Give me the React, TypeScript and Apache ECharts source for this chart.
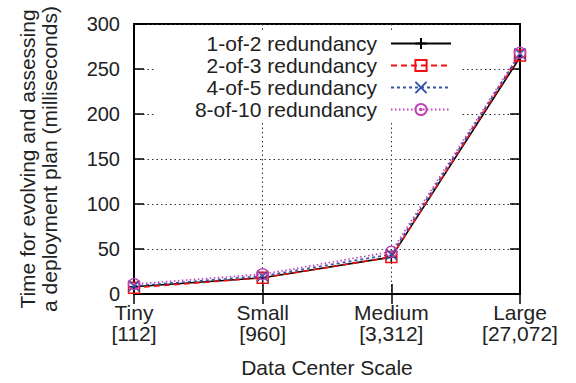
import React, { useEffect, useRef } from "react";
import * as echarts from "echarts";

const categories = ["Tiny\n[112]", "Small\n[960]", "Medium\n[3,312]", "Large\n[27,072]"];
const seriesNames = ["1-of-2 redundancy", "2-of-3 redundancy", "4-of-5 redundancy", "8-of-10 redundancy"];
const oneOfTwo = [8, 18, 41, 263];
const twoOfThree = [7, 18, 41, 265];
const fourOfFive = [9, 20, 44, 267];
const eightOfTen = [11, 22, 47, 268];
const yTicks = { min: 0, max: 300, interval: 50 };

const FONT = "'Liberation Sans', Arial, Helvetica, sans-serif";
const TXT = "#222";

export default function App() {
  const ref = useRef<HTMLDivElement>(null);
  useEffect(() => {
    if (!ref.current) return;
    const chart = echarts.init(ref.current, undefined, { renderer: "svg" });
    const colors = ["#000000", "#ee1111", "#3355aa", "#c040b8"];
    const symbols = [
      "path://M0,5L10,5M5,0L5,10",
      "path://M0,0L10,0L10,10L0,10Z",
      "path://M0,0L10,10M10,0L0,10",
      "path://M0,5A5,5,0,1,1,10,5A5,5,0,1,1,0,5ZM4.4,5A0.6,0.6,0,1,1,5.6,5A0.6,0.6,0,1,1,4.4,5Z",
    ];
    const dashes: any[] = ["solid", [6, 4], [3, 3], [1.5, 2.5]];
    const data = [oneOfTwo, twoOfThree, fourOfFive, eightOfTen];
    const series = data.map((d, i) => ({
      name: seriesNames[i],
      type: "line",
      data: d,
      symbol: symbols[i],
      symbolSize: 11,
      xAxisIndex: 0,
      yAxisIndex: 0,
      itemStyle: { color: "rgba(0,0,0,0)", borderColor: colors[i], borderWidth: 1.5 },
      lineStyle: { color: colors[i], width: 1.6, type: dashes[i] },
      emphasis: { disabled: true },
    }));
    chart.setOption({
      animation: false,
      textStyle: { fontFamily: FONT },
      grid: {
        left: 134,
        right: 56,
        top: 24,
        bottom: 89,
        show: true,
        borderColor: "#000",
        borderWidth: 2,
        backgroundColor: "transparent",
      },
      legend: {
        orient: "vertical",
        align: "right",
        right: 116,
        top: 33,
        padding: [0, 8, 0, 40],
        backgroundColor: "#fff",
        itemWidth: 60,
        itemHeight: 14,
        itemGap: 1,
        textStyle: { fontSize: 21, color: TXT, fontFamily: FONT, lineHeight: 21, padding: [0, 9, 0, 0] },
        data: seriesNames,
      },
      xAxis: [
        {
          type: "category",
          data: categories,
          boundaryGap: false,
          position: "bottom",
          axisLine: { show: true, lineStyle: { color: "#000", width: 2 } },
          axisTick: { show: true, inside: true, length: 10, lineStyle: { color: "#000", width: 1.5 } },
          axisLabel: { fontSize: 21, color: TXT, fontFamily: FONT, lineHeight: 21, margin: 8 },
          splitLine: { show: true, lineStyle: { color: "#333", width: 1, type: [1.5, 3] } },
          name: "Data Center Scale",
          nameLocation: "middle",
          nameGap: 63,
          nameTextStyle: { fontSize: 21, color: TXT, fontFamily: FONT },
        },
        {
          type: "category",
          data: categories,
          boundaryGap: false,
          position: "top",
          axisLine: { show: true, lineStyle: { color: "#000", width: 2 } },
          axisTick: { show: true, inside: true, length: 10, lineStyle: { color: "#000", width: 1.5 } },
          axisLabel: { show: false },
          splitLine: { show: false },
        },
      ],
      yAxis: [
        {
          type: "value",
          min: yTicks.min,
          max: yTicks.max,
          interval: yTicks.interval,
          position: "left",
          axisLine: { show: true, lineStyle: { color: "#000", width: 2 } },
          axisTick: { show: true, inside: true, length: 10, lineStyle: { color: "#000", width: 1.5 } },
          axisLabel: { fontSize: 20, color: TXT, fontFamily: FONT, margin: 14 },
          splitLine: { show: true, lineStyle: { color: "#333", width: 1, type: [1.5, 3] } },
          name: "Time for evolving and assessing\na deployment plan (milliseconds)",
          nameLocation: "middle",
          nameGap: 74,
          nameTextStyle: { fontSize: 21, color: TXT, fontFamily: FONT, lineHeight: 22 },
        },
        {
          type: "value",
          min: yTicks.min,
          max: yTicks.max,
          interval: yTicks.interval,
          position: "right",
          axisLine: { show: true, lineStyle: { color: "#000", width: 2 } },
          axisTick: { show: true, inside: true, length: 10, lineStyle: { color: "#000", width: 1.5 } },
          axisLabel: { show: false },
          splitLine: { show: false },
        },
      ],
      series,
    });
    return () => chart.dispose();
  }, []);
  return <div ref={ref} style={{ width: 576, height: 383, position: "absolute", left: 0, top: 0, background: "#fff" }} />;
}
